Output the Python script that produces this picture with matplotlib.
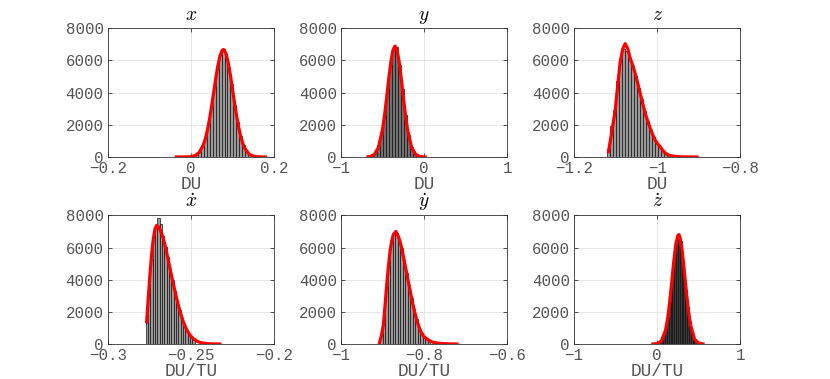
import numpy as np
import matplotlib
matplotlib.use("Agg")
import matplotlib.pyplot as plt

plt.rcParams['font.family'] = ['Liberation Mono', 'DejaVu Sans Mono']
plt.rcParams['mathtext.fontset'] = 'cm'
plt.rcParams['axes.unicode_minus'] = True

# titles / labels
titles = [r'$x$', r'$y$', r'$z$', r'$\dot{x}$', r'$\dot{y}$', r'$\dot{z}$']
xlabels = ['DU', 'DU', 'DU', 'DU/TU', 'DU/TU', 'DU/TU']
xlims = [(-0.2, 0.2), (-1, 1), (-1.2, -0.8), (-0.3, -0.2), (-1, -0.6), (-1, 1)]
xticks = [[-0.2, 0, 0.2], [-1, 0, 1], [-1.2, -1, -0.8],
          [-0.3, -0.25, -0.2], [-1, -0.8, -0.6], [-1, 0, 1]]
xticklabels = [['\u22120.2', '0', '0.2'], ['\u22121', '0', '1'], ['\u22121.2', '\u22121', '\u22120.8'],
               ['\u22120.3', '\u22120.25', '\u22120.2'], ['\u22121', '\u22120.8', '\u22120.6'], ['\u22121', '0', '1']]
yticks = [0, 2000, 4000, 6000, 8000]

# histogram bins: (first edge, bin width) and counts
bin_start = [0.004, -0.638, -1.12, -0.2772, -0.911, 0.03]
bin_width = [0.007, 0.036, 0.0072, 0.0014, 0.006, 0.022]
counts_x = [60, 150, 320, 670, 1190, 2050, 3080, 4350, 5450, 6350, 6700,
            6420, 5600, 4520, 3240, 2180, 1300, 730, 360, 170, 70, 25]
counts_y = [80, 240, 600, 1380, 2560, 4200, 5740, 6650, 6820, 5720, 4210,
            2600, 1350, 620, 230, 80]
counts_z = [500, 1900, 2900, 4700, 6100, 6700, 6600, 6150, 5650, 5050, 4300,
            3580, 2830, 2230, 1700, 1260, 880, 600, 400, 250, 150]
counts_xd = [1300, 3500, 5300, 6800, 7300, 7840, 7450, 6700, 6050, 5400, 4650,
             4000, 3300, 2650, 2100, 1600, 1200, 880, 620, 420, 280]
counts_yd = [100, 600, 1750, 3600, 5300, 6400, 6850, 6900, 6550, 5950, 5200,
             4400, 3650, 2850, 2150, 1550, 1050, 680, 450, 300, 190]
counts_zd = [133, 285, 561, 1020, 1710, 2636, 3750, 4918, 5943, 6617, 6791,
             6424, 5600, 4500, 3330, 2272, 1430, 830, 443, 218]
face_colors = ['#9a9a9a', '#707070', '#9a9a9a', '#9a9a9a', '#9a9a9a', '#3a3a3a']

# fitted curves
fit_x_x = [-0.035, -0.02, -0.01, 0.0, 0.01, 0.02, 0.03, 0.035, 0.04, 0.045, 0.05, 0.055,
           0.06, 0.065, 0.07, 0.075, 0.078, 0.08, 0.085, 0.09, 0.095, 0.10, 0.105, 0.11,
           0.115, 0.12, 0.125, 0.13, 0.14, 0.15, 0.16, 0.17, 0.179]
fit_x_y = [0, 1, 4, 21, 84, 278, 754, 1163, 1705, 2385, 3184, 4052,
           4918, 5693, 6287, 6623, 6680, 6655, 6380, 5830, 5084, 4226, 3353, 2538,
           1830, 1260, 830, 518, 177, 50, 12, 2, 0]
fit_y_x = [-0.675, -0.65, -0.6, -0.55, -0.5, -0.475, -0.45, -0.425, -0.4, -0.375, -0.35,
           -0.325, -0.3, -0.275, -0.25, -0.225, -0.2, -0.15, -0.1, -0.05, 0.012]
fit_y_y = [10, 27, 145, 584, 1720, 2630, 3724, 4878, 5913, 6640, 6900,
           6640, 5913, 4878, 3724, 2630, 1720, 584, 145, 27, 0]
fit_z_x = [-1.117, -1.109, -1.101, -1.095, -1.089, -1.083, -1.077, -1.071, -1.065, -1.059,
           -1.053, -1.047, -1.041, -1.035, -1.029, -1.023, -1.017, -1.011, -1.005, -0.999,
           -0.993, -0.987, -0.981, -0.975, -0.969, -0.96, -0.95, -0.94, -0.93, -0.92, -0.904]
fit_z_y = [330, 1600, 2900, 4450, 5900, 6700, 7050, 6750, 6150, 5700,
           5200, 4600, 3970, 3350, 2730, 2250, 1800, 1400, 1050, 820,
           640, 430, 250, 150, 90, 45, 20, 10, 5, 2, 0]
fit_xd_x = [-0.2766, -0.2756, -0.2746, -0.2736, -0.2726, -0.2716, -0.2706, -0.2696, -0.2686,
            -0.2676, -0.2666, -0.2646, -0.2626, -0.2606, -0.2586, -0.2566, -0.2546, -0.2526,
            -0.2506, -0.2486, -0.2466, -0.2446, -0.2416, -0.2386, -0.2356, -0.2326]
fit_xd_y = [1390, 2900, 4350, 5600, 6550, 7150, 7376, 7300, 7100,
            6850, 6590, 5700, 4720, 3750, 2850, 2050, 1390, 900,
            560, 340, 190, 100, 40, 15, 5, 0]
fit_yd_x = [-0.908, -0.903, -0.898, -0.894, -0.890, -0.886, -0.882, -0.878, -0.874, -0.868,
            -0.862, -0.858, -0.854, -0.850, -0.846, -0.842, -0.838, -0.834, -0.830, -0.826,
            -0.822, -0.818, -0.814, -0.810, -0.806, -0.800, -0.793, -0.785, -0.778, -0.765,
            -0.750, -0.735, -0.721]
fit_yd_y = [0, 500, 1185, 2400, 3680, 4800, 5760, 6400, 6800, 7000,
            6690, 6380, 5970, 5470, 4930, 4400, 3880, 3360, 2850, 2360,
            1910, 1520, 1185, 900, 670, 450, 310, 180, 100, 45,
            20, 7, 0]
fit_zd_x = [-0.052, 0.0, 0.05, 0.1, 0.125, 0.15, 0.175, 0.2, 0.225, 0.25, 0.2625, 0.275,
            0.3, 0.325, 0.35, 0.375, 0.4, 0.45, 0.5, 0.55]
fit_zd_y = [2, 26, 184, 850, 1565, 2590, 3857, 5170, 6237, 6772, 6800, 6615,
            5820, 4604, 3278, 2101, 1212, 294, 47, 5]

counts = [counts_x, counts_y, counts_z, counts_xd, counts_yd, counts_zd]
fits = [(fit_x_x, fit_x_y), (fit_y_x, fit_y_y), (fit_z_x, fit_z_y),
        (fit_xd_x, fit_xd_y), (fit_yd_x, fit_yd_y), (fit_zd_x, fit_zd_y)]

fig = plt.figure(figsize=(8.3, 3.79), dpi=100)
lefts = [0.1298, 0.4108, 0.6916]
bottoms = [0.5858, 0.0923]
txt = '#555555'

for i in range(6):
    r, c = divmod(i, 3)
    ax = fig.add_axes([lefts[c], bottoms[r], 0.2004, 0.3395])
    n = len(counts[i])
    centers = bin_start[i] + bin_width[i] * (np.arange(n) + 0.5)
    ax.bar(centers, counts[i], width=bin_width[i], color=face_colors[i],
           edgecolor='#111111', linewidth=0.5, zorder=2)
    ax.plot(fits[i][0], fits[i][1], color='#ff0000', linewidth=2.3, zorder=3)
    ax.set_xlim(*xlims[i])
    ax.set_ylim(0, 8000)
    ax.set_xticks(xticks[i])
    ax.set_xticklabels(xticklabels[i])
    ax.set_yticks(yticks)
    ax.set_yticklabels([str(v) for v in yticks])
    ax.grid(True, color='#e3e3e3', linewidth=0.6, zorder=0)
    ax.set_axisbelow(True)
    ax.tick_params(direction='in', length=3, width=0.6, colors='#333333',
                   labelcolor=txt, labelsize=11.3, top=True, right=True)
    ax.tick_params(axis='x', pad=3)
    ax.tick_params(axis='y', pad=3)
    for sp in ax.spines.values():
        sp.set_color('#333333')
        sp.set_linewidth(0.6)
    ax.set_title(titles[i], fontsize=14, color='k', pad=6)
    ax.set_xlabel(xlabels[i], fontsize=12.8, color=txt, labelpad=0)

fig.savefig('out.png', dpi=100)
